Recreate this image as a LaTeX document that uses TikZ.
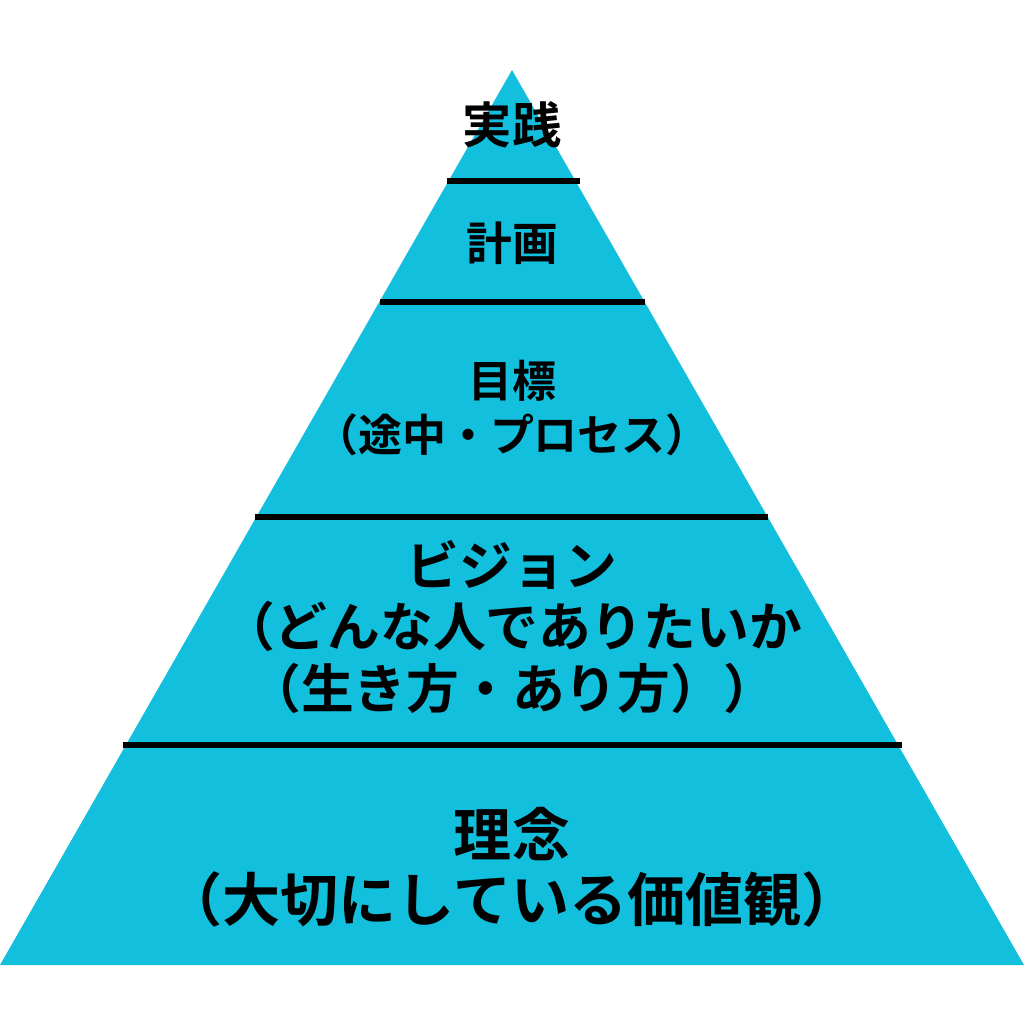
\documentclass[tikz,border=0pt]{standalone}
\usepackage{fontspec}
\setmainfont{Noto Sans CJK JP}[BoldFont={Noto Sans CJK JP Bold}]
\usetikzlibrary{positioning}

\begin{document}
\begin{tikzpicture}[x=0.01cm, y=-0.01cm,
    tier/.style={align=center, text=black, inner sep=0pt},
    divider/.style={line width=1.6pt, black}
]
\definecolor{pyramid}{HTML}{12BFDD}
\useasboundingbox (0,0) rectangle (1024,1024);

% Pyramid
\fill[pyramid] (512,70) -- (1024,965) -- (0,965) -- cycle;

% Dividers
\coordinate (d1l) at (447,181); \coordinate (d1r) at (580,181);
\coordinate (d2l) at (380,302); \coordinate (d2r) at (645,302);
\coordinate (d3l) at (255,517); \coordinate (d3r) at (768,517);
\coordinate (d4l) at (123,745); \coordinate (d4r) at (902,745);
\draw[divider] (d1l) -- (d1r);
\draw[divider] (d2l) -- (d2r);
\draw[divider] (d3l) -- (d3r);
\draw[divider] (d4l) -- (d4r);

% Labels
\node[tier, font=\bfseries\fontsize{14}{17}\selectfont] (practice) at (512,125) {実践};
\node[tier, font=\bfseries\fontsize{13}{17}\selectfont] (plan) at (512,243) {計画};
\node[tier, font=\bfseries\fontsize{12.5}{15.5}\selectfont] (goal) at (512,408) {目標\\（途中・プロセス）};
\node[tier, font=\bfseries\fontsize{15}{17.5}\selectfont] (vision) at (512,627) {ビジョン\\（どんな人でありたいか\\（生き方・あり方））};
\node[tier, font=\bfseries\fontsize{16.5}{18.5}\selectfont] (ideal) at (512,867) {理念\\（大切にしている価値観）};

\end{tikzpicture}
\end{document}
